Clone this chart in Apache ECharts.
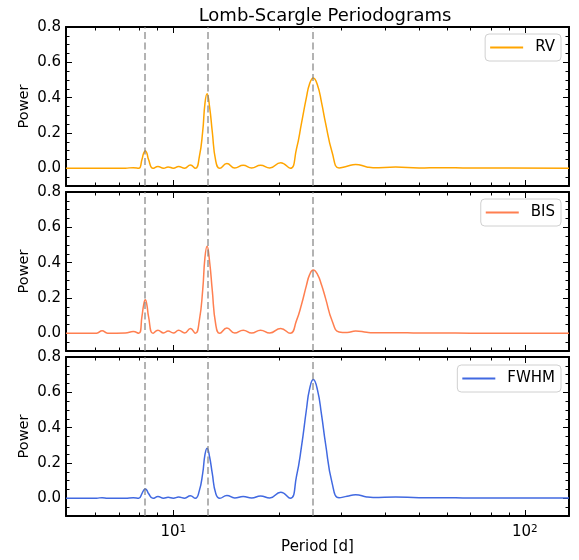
<!DOCTYPE html>
<html>
<head>
<meta charset="utf-8">
<script src="https://cdn.jsdelivr.net/npm/echarts@6/dist/echarts.min.js"></script>
<style>
  html, body { margin: 0; padding: 0; background: #fff; }
  #chart { width: 579px; height: 560px; }
</style>
</head>
<body>
<div id="chart"></div>
<script>
// Period grid (days) shared by the three periodograms
const periods = [4.95, 6.05, 6.27, 6.5, 7.3, 7.69, 7.97, 8.14, 8.23, 8.32, 8.41, 8.5, 8.75,
  9.04, 9.38, 9.66, 10.0, 10.35, 10.77, 11.18, 11.55, 11.85, 12.12, 12.3, 12.47, 12.68,
  12.9, 13.2, 13.55, 14.2, 14.95, 15.8, 16.7, 17.7, 18.8, 20.2, 21.5, 22.4, 23.15, 23.9,
  24.4, 25.0, 25.7, 26.4, 27.1, 28.3, 29.6, 31.2, 33.0, 35.5, 37.0, 42.9, 50.0, 57.6,
  70.0, 90.0, 133.5];

const rvPower = [0.0, 0.0, 0.001, 0.0, 0.001, 0.004, 0.0, 0.05, 0.085, 0.10, 0.085, 0.05, 0.0,
  0.011, 0.001, 0.008, 0.001, 0.011, 0.001, 0.019, 0.0, 0.063, 0.21, 0.368, 0.422, 0.347,
  0.21, 0.042, 0.0, 0.027, 0.002, 0.017, 0.002, 0.017, 0.002, 0.032, 0.0, 0.11, 0.256, 0.40,
  0.478, 0.512, 0.472, 0.372, 0.256, 0.09, 0.002, 0.012, 0.022, 0.008, 0.003, 0.007, 0.002, 0.004,
  0.002, 0.002, 0.001];

const bisPower = [0.0, 0.001, 0.015, 0.001, 0.002, 0.01, 0.0, 0.095, 0.16, 0.19, 0.16, 0.095, 0.0,
  0.017, 0.002, 0.013, 0.002, 0.017, 0.002, 0.028, 0.0, 0.07, 0.246, 0.43, 0.493, 0.405,
  0.246, 0.05, 0.0, 0.03, 0.002, 0.018, 0.002, 0.018, 0.002, 0.028, 0.0, 0.072, 0.163, 0.27,
  0.331, 0.358, 0.334, 0.273, 0.198, 0.07, 0.008, 0.005, 0.013, 0.006, 0.004, 0.004, 0.002, 0.002,
  0.001, 0.001, 0.001];

const fwhmPower = [0.0, 0.001, 0.004, 0.001, 0.001, 0.003, 0.0, 0.027, 0.045, 0.053, 0.045, 0.027, 0.0,
  0.01, 0.001, 0.006, 0.001, 0.007, 0.001, 0.015, 0.0, 0.042, 0.142, 0.247, 0.284, 0.234,
  0.142, 0.028, 0.0, 0.016, 0.002, 0.01, 0.002, 0.013, 0.002, 0.034, 0.0, 0.124, 0.294, 0.5,
  0.618, 0.672, 0.614, 0.472, 0.309, 0.085, 0.003, 0.012, 0.02, 0.008, 0.005, 0.008, 0.003, 0.004,
  0.002, 0.002, 0.002];

// Periods highlighted with vertical dashed lines
const markedPeriods = [8.3, 12.5, 25.0];

// Tick positions
const xMajorTicks = [10, 100];
const xMinorTicks = [6, 7, 8, 9, 20, 30, 40, 50, 60, 70, 80, 90];
const yMajorTicks = [0, 0.2, 0.4, 0.6, 0.8];
const yMinorTicks = [-0.05, 0.05, 0.1, 0.15, 0.25, 0.3, 0.35, 0.45, 0.5, 0.55, 0.65, 0.7, 0.75];

const seriesNames = ['RV', 'BIS', 'FWHM'];
const seriesPowers = [rvPower, bisPower, fwhmPower];
const seriesColors = ['#FFA500', '#FF7F50', '#4169E1'];

const FONT = 'DejaVu Sans';
const X_MIN = 4.95, X_MAX = 133.5;
const PANEL_TOPS = [27, 192, 357];
const PANEL_H = 159;
const LEGEND_TOPS = [34, 199, 365];
const FRAME_W = 2;

const grids = [], xAxes = [], yAxes = [], series = [], legends = [];

function xAxisDef(g, position, ticks, len, showLine, showLabels) {
  const ax = {
    type: 'log', logBase: 10, gridIndex: g, position: position,
    min: X_MIN, max: X_MAX,
    axisLine: { show: showLine, onZero: false, lineStyle: { color: '#000', width: FRAME_W } },
    axisTick: { show: true, inside: true, length: len, customValues: ticks,
      lineStyle: { color: '#000', width: 1 } },
    axisLabel: { show: false },
    splitLine: { show: false },
    minorTick: { show: false },
    silent: true
  };
  if (showLabels) {
    ax.axisLabel = {
      show: true, customValues: xMajorTicks, margin: 8,
      formatter: v => '{b|10}{s|' + Math.round(Math.log10(v)) + '}',
      rich: {
        b: { fontFamily: FONT, fontSize: 15, color: '#000' },
        s: { fontFamily: FONT, fontSize: 10.5, color: '#000', verticalAlign: 'top', padding: [0, 0, 6, 0] }
      }
    };
    ax.name = 'Period [d]';
    ax.nameLocation = 'middle';
    ax.nameGap = 24;
    ax.nameMoveOverlap = false;
    ax.nameTextStyle = { fontFamily: FONT, fontSize: 15, color: '#000', verticalAlign: 'top' };
  }
  return ax;
}

function yAxisDef(g, position, ticks, len, showLine, showLabels) {
  const ax = {
    type: 'value', gridIndex: g, position: position,
    min: -0.1, max: 0.8, interval: 0.1,
    axisLine: { show: showLine, onZero: false, lineStyle: { color: '#000', width: FRAME_W } },
    axisTick: { show: true, inside: true, length: len, customValues: ticks,
      lineStyle: { color: '#000', width: 1 } },
    axisLabel: { show: false },
    splitLine: { show: false },
    silent: true
  };
  if (showLabels) {
    ax.axisLabel = {
      show: true, customValues: yMajorTicks, margin: 5,
      formatter: v => v.toFixed(1),
      fontFamily: FONT, fontSize: 15, color: '#000'
    };
    ax.name = 'Power';
    ax.nameLocation = 'middle';
    ax.nameGap = 34;
    ax.nameMoveOverlap = false;
    ax.nameTextStyle = { fontFamily: FONT, fontSize: 14.5, color: '#000' };
  }
  return ax;
}

for (let g = 0; g < 3; g++) {
  grids.push({ left: 66, right: 10, top: PANEL_TOPS[g], height: PANEL_H, containLabel: false });

  // x axes: bottom major / minor, top major / minor
  xAxes.push(xAxisDef(g, 'bottom', xMajorTicks, 6, true, g === 2));
  xAxes.push(xAxisDef(g, 'bottom', xMinorTicks, 3.5, false, false));
  xAxes.push(xAxisDef(g, 'top', xMajorTicks, 6, true, false));
  xAxes.push(xAxisDef(g, 'top', xMinorTicks, 3.5, false, false));

  // y axes: left major / minor, right major / minor
  yAxes.push(yAxisDef(g, 'left', yMajorTicks, 6, true, true));
  yAxes.push(yAxisDef(g, 'left', yMinorTicks, 3.5, false, false));
  yAxes.push(yAxisDef(g, 'right', yMajorTicks, 6, true, false));
  yAxes.push(yAxisDef(g, 'right', yMinorTicks, 3.5, false, false));

  const powers = seriesPowers[g];
  series.push({
    name: seriesNames[g],
    type: 'line',
    xAxisIndex: 4 * g,
    yAxisIndex: 4 * g,
    data: periods.map((p, k) => [p, powers[k]]),
    symbol: 'none',
    showSymbol: false,
    smooth: 0.5,
    lineStyle: { color: seriesColors[g], width: 1.5 },
    itemStyle: { color: seriesColors[g] },
    emphasis: { disabled: true },
    markLine: {
      silent: true,
      symbol: ['none', 'none'],
      label: { show: false },
      lineStyle: { color: 'rgba(128,128,128,0.6)', width: 2, type: [7, 3.5] },
      data: markedPeriods.map(v => ({ xAxis: v }))
    }
  });

  legends.push({
    data: [seriesNames[g]],
    right: 18,
    top: LEGEND_TOPS[g],
    orient: 'horizontal',
    icon: 'rect',
    itemWidth: 33,
    itemHeight: 2,
    padding: [6, 6, 6, 5],
    borderColor: '#d0d0d0',
    borderWidth: 1,
    borderRadius: 4,
    backgroundColor: 'rgba(255,255,255,0.8)',
    selectedMode: false,
    textStyle: { fontFamily: FONT, fontSize: 15, color: '#000', padding: [0, 0, 0, 7] }
  });
}

const chart = echarts.init(document.getElementById('chart'), null, { renderer: 'canvas' });
chart.setOption({
  animation: false,
  backgroundColor: '#fff',
  title: {
    text: 'Lomb-Scargle Periodograms',
    left: 320,
    textAlign: 'center',
    top: 2,
    textStyle: { fontFamily: FONT, fontSize: 18, fontWeight: 'normal', color: '#000' }
  },
  legend: legends,
  grid: grids,
  xAxis: xAxes,
  yAxis: yAxes,
  series: series
});
</script>
</body>
</html>
